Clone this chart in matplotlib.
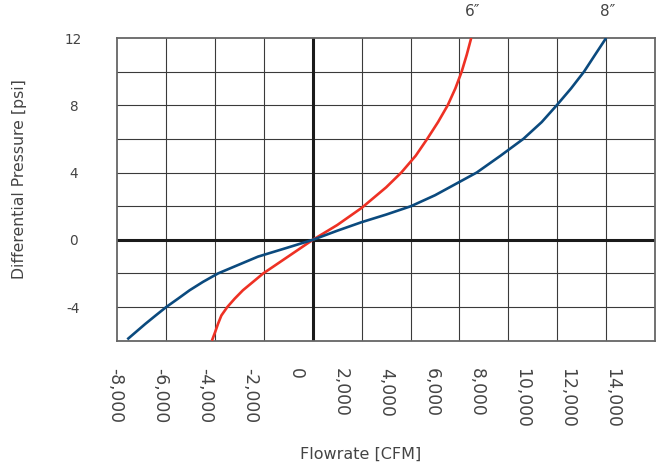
import matplotlib
matplotlib.use("Agg")
import matplotlib.pyplot as plt
import numpy as np

# 6-inch valve: flowrate [CFM] vs differential pressure [psi]
flow_6in = [-4130, -4000, -3880, -3742, -3500, -3197, -2860, -2030, -1015, 0,
            1000, 2000, 3000, 3620, 4210, 4680, 5123, 5519, 5831, 6090, 6297, 6480]
dp_6in = [-6.0, -5.5, -5.0, -4.5, -4.0, -3.5, -3.0, -2.0, -1.0, 0.0,
          0.88, 1.9, 3.12, 4.0, 5.0, 6.0, 7.0, 8.0, 9.0, 10.0, 11.0, 12.0]

# 8-inch valve
flow_8in = [-7590, -6853, -6430, -6000, -5515, -5040, -4492, -3879, -2242, -1000, 0,
            1000, 2000, 3000, 4018, 5000, 6023, 6706, 7680, 8613, 9365, 9979,
            10565, 11097, 11547, 12000]
dp_8in = [-5.92, -5.0, -4.5, -4.0, -3.5, -3.0, -2.5, -2.0, -1.0, -0.45, 0.0,
          0.54, 1.05, 1.5, 2.0, 2.65, 3.46, 4.0, 5.0, 6.0, 7.0, 8.0,
          9.0, 10.0, 11.0, 12.0]

series_labels = ["6\u2033", "8\u2033"]
x_ticks = [-8000, -6000, -4000, -2000, 0, 2000, 4000, 6000, 8000, 10000, 12000, 14000]
y_ticks = [-4, 0, 4, 8, 12]

W, H = 661, 470
fig = plt.figure(figsize=(W / 100, H / 100), dpi=100)
L, R, T, B = 117.3, 655, 38, 340.7
ax = fig.add_axes([L / W, 1 - B / H, (R - L) / W, (B - T) / H])

ax.set_xlim(-8000, 14000)
ax.set_ylim(-6, 12)

# grid
grid_c = "#3a3a3a"
for gx in np.arange(-6000, 14000, 2000):
    ax.axvline(gx, color=grid_c, lw=0.8, zorder=1)
for gy in np.arange(-4, 12, 2):
    ax.axhline(gy, color=grid_c, lw=0.8, zorder=1)
ax.axvline(0, color="#1a1a1a", lw=2.2, zorder=2)
ax.axhline(0, color="#1a1a1a", lw=2.2, zorder=2)

for s in ax.spines.values():
    s.set_color("#666666")
    s.set_linewidth(1.3)

red = "#EE3124"
blue = "#0B4A7E"
ax.plot(flow_6in, dp_6in, color=red, lw=1.9, zorder=3, solid_capstyle="butt",
        solid_joinstyle="round")
ax.plot(flow_8in, dp_8in, color=blue, lw=1.9, zorder=4, solid_capstyle="butt",
        solid_joinstyle="round")

ax.annotate(series_labels[0], (flow_6in[-1], dp_6in[-1]), xytext=(1, 14),
            textcoords="offset points", ha="center", va="bottom",
            fontsize=11, color="#444444", annotation_clip=False)
ax.annotate(series_labels[1], (flow_8in[-1], dp_8in[-1]), xytext=(1, 14),
            textcoords="offset points", ha="center", va="bottom",
            fontsize=11, color="#444444", annotation_clip=False)

# y ticks
ax.set_yticks(y_ticks)
ax.set_yticklabels([str(v) for v in y_ticks], ha="center")
ax.tick_params(axis="y", length=0, pad=31.5, labelsize=9.8, labelcolor="#444444")

# x ticks on main axes hidden; labels laid out on a separate strip
ax.set_xticks([])

lax = fig.add_axes([115 / W, 1 - B / H, (612 - 115) / W, 0.0001])
lax.set_xlim(-8000, 14000)
lax.set_yticks([])
for s in lax.spines.values():
    s.set_visible(False)
lax.patch.set_alpha(0)
lax.set_xticks(x_ticks)
lax.set_xticklabels([f"{v:,}" for v in x_ticks], rotation=270)
lax.tick_params(axis="x", length=0, pad=19.5, labelsize=12.3, labelcolor="#444444")

fig.text(361 / W, 1 - 454 / H, "Flowrate [CFM]", ha="center", va="center",
         fontsize=11.5, color="#444444")
fig.text(20 / W, 1 - 179 / H, "Differential Pressure [psi]", ha="center",
         va="center", rotation=90, fontsize=11.3, color="#444444")

fig.savefig("out.png", dpi=100)
